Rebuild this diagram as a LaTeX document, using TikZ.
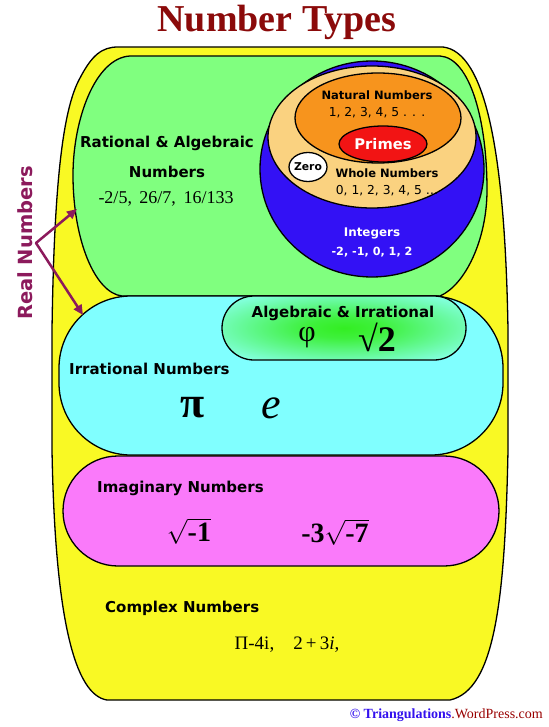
\documentclass[tikz,border=0pt]{standalone}
\usepackage{fontspec}
\setmainfont{Liberation Serif}
\newfontfamily\chalk{DejaVu Sans}
\usetikzlibrary{shapes.geometric, arrows.meta, positioning}

\definecolor{cpxyellow}{HTML}{F9F924}
\definecolor{ratgreen}{HTML}{80FF7F}
\definecolor{intblue}{HTML}{3311F5}
\definecolor{wholetan}{HTML}{FAD280}
\definecolor{natorange}{HTML}{F7941D}
\definecolor{primered}{HTML}{F21414}
\definecolor{irrcyan}{HTML}{80FFFF}
\definecolor{imgpink}{HTML}{FA7AFA}
\definecolor{algglow}{HTML}{33EE22}
\definecolor{algedge}{HTML}{80FFD8}
\definecolor{titlered}{HTML}{8B0A0A}
\definecolor{realmag}{HTML}{8C1A5C}
\definecolor{footblue}{HTML}{3311EE}
\definecolor{footred}{HTML}{990000}

\pgfdeclareradialshading{algshade}{\pgfpoint{0bp}{0bp}}{color(0bp)=(algglow); color(8bp)=(algglow!85!algedge); color(30bp)=(algedge); color(50bp)=(algedge)}

\begin{document}
\begin{tikzpicture}[x=1pt, y=-1pt,
  blob/.style={draw, line width=1.3pt},
  band/.style={rectangle, draw, line width=1.3pt, inner sep=0pt},
  lbl/.style={font=\chalk\bfseries\fontsize{15}{15}\selectfont, inner sep=0pt},
  sml/.style={font=\chalk\bfseries\fontsize{11.5}{12}\selectfont, inner sep=0pt},
  digs/.style={font=\chalk\fontsize{12.3}{13}\selectfont, inner sep=0pt},
  big/.style={inner sep=0pt},
  realarrow/.style={draw=realmag, line width=2.5pt, line cap=round, -{Triangle[length=10pt,width=9pt]}}]

  \fill[white] (0,0) rectangle (548,727);
  \useasboundingbox (0,0) rectangle (548,727);

  % complex numbers (outer)
  \draw[fill=cpxyellow, line width=1.3pt] (118,47) -- (443,47)
     .. controls (485,52) and (505,150) .. (508,330) -- (508,450)
     .. controls (505,600) and (495,690) .. (450,700) -- (107,700)
     .. controls (75,695) and (55,620) .. (52,450) -- (52,330)
     .. controls (54,190) and (62,110) .. (80,78)
     .. controls (92,55) and (102,47) .. (118,47) -- cycle;

  % rational
  \draw[fill=ratgreen, line width=1.3pt] (130,56) -- (440,56)
     .. controls (470,58) and (487,120) .. (487,190)
     .. controls (487,240) and (465,285) .. (440,296) -- (122,296)
     .. controls (95,293) and (73,240) .. (73,175)
     .. controls (73,120) and (95,58) .. (130,56) -- cycle;

  % integers, whole, natural, primes, zero
  \draw[blob, fill=intblue] (372,169) ellipse [x radius=112pt, y radius=108pt];
  \draw[blob, fill=wholetan] (372,137) ellipse [x radius=104pt, y radius=71pt];
  \draw[blob, fill=natorange] (378,118) ellipse [x radius=83pt, y radius=45pt];
  \draw[blob, fill=primered] (383,144) ellipse [x radius=44pt, y radius=18pt];
  \draw[blob, fill=white] (308,167) ellipse [x radius=19pt, y radius=14.5pt];

  \draw (281,375.5) node[band, fill=irrcyan, minimum width=444, minimum height=159, rounded corners=72] (irr) {};
  \draw (344,328) node[band, shading=algshade, minimum width=244, minimum height=64, rounded corners=32] (alg) {};
  \draw (281,511) node[band, fill=imgpink, minimum width=436, minimum height=110, rounded corners=55] (img) {};

  % labels
  \draw (383,144) node[big, text=white, font=\chalk\bfseries\fontsize{14.7}{15}\selectfont] (prm) {Primes};
  \draw (308,167) node[big, font=\chalk\bfseries\fontsize{10.8}{11}\selectfont] (zro) {Zero};
  \draw (377,95) node[sml] (natlbl) {Natural Numbers};
  \draw (377,113) node[digs] (natx) {1, 2, 3, 4, 5 . . .};
  \draw (387,173) node[sml] (whllbl) {Whole Numbers};
  \draw (387,191) node[digs] (whlx) {0, 1, 2, 3, 4, 5 …};
  \draw (372,233) node[sml, text=white, font=\chalk\bfseries\fontsize{11.9}{12}\selectfont] (intlbl) {Integers};
  \draw (372,252) node[sml, text=white, font=\chalk\bfseries\fontsize{11.2}{12}\selectfont] (intx) {-2, -1, 0, 1, 2};

  \draw (167,143) node[lbl] (ratlbl) {Rational \& Algebraic};
  \draw (167,172) node[lbl] (ratlblb) {Numbers};
  \draw (166,199) node[big, font=\fontsize{18}{18}\selectfont] (ratx) {-2/5,\, 26/7,\, 16/133};

  \draw (343,313) node[lbl] (alglbl) {Algebraic \& Irrational};
  \draw (307,338) node[big, font=\fontsize{30}{30}\selectfont] (phi) {φ};
  \draw (377,337) node[big, font=\bfseries\fontsize{36}{36}\selectfont] (rt2) {√2};

  \draw (69,369) node[lbl, anchor=west] (irrlbl) {Irrational Numbers};
  \draw (193,408) node[big, font=\bfseries\fontsize{44}{44}\selectfont] (pi) {π};
  \draw (271,408) node[big, font=\itshape\fontsize{44}{44}\selectfont] (e) {e};

  \draw (97,488) node[lbl, anchor=west] (imglbl) {Imaginary Numbers};
  \draw (189,531) node[big, font=\fontsize{28}{28}\selectfont] (rtm1) {$\sqrt{\hbox{\bfseries -1}}$};
  \draw (335,532) node[big, font=\fontsize{28}{28}\selectfont] (rtm7) {\bfseries -3$\sqrt{\hbox{\bfseries -7}}$};

  \draw (105,608) node[lbl, anchor=west] (cpxlbl) {Complex Numbers};
  \draw (287,645) node[big, font=\fontsize{19}{19}\selectfont] (cpxx) {Π-4i,\quad 2\,+\,3\textit{i},};

  \draw (277,22) node[big, text=titlered, font=\bfseries\fontsize{38}{38}\selectfont] (ttl) {Number Types};
  \draw (25,243) node[big, rotate=90, text=realmag, font=\chalk\bfseries\fontsize{19.5}{20}\selectfont] (real) {Real Numbers};

  \coordinate (rv) at (36,243);
  \coordinate (rattip) at (77,209);
  \coordinate (irrtip) at (83,315);
  \path (rv) edge[realarrow] (rattip)
             edge[realarrow] (irrtip);

  \draw (543,715) node[big, anchor=east, font=\fontsize{14}{14}\selectfont] (foot)
        {\textcolor{footblue}{\bfseries © Triangulations}\textcolor{footred}{.WordPress.com}};
\end{tikzpicture}
\end{document}
